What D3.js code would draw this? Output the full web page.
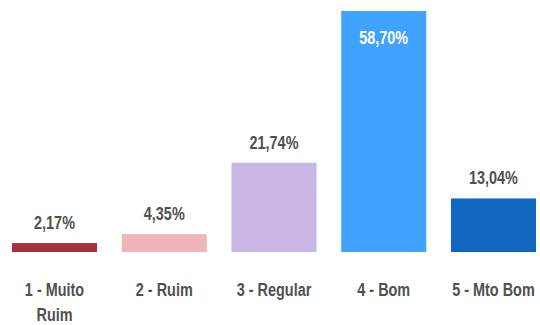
<!DOCTYPE html>
<html>
<head>
<meta charset="utf-8">
<script src="https://cdn.jsdelivr.net/npm/d3@7"></script>
<style>
  html, body { margin: 0; padding: 0; background: #fff; }
  svg { display: block; }
  text { font-family: "Liberation Sans", Arial, sans-serif; font-weight: bold; }
</style>
</head>
<body>
<svg id="chart" width="540" height="325"></svg>
<script>
// Avaliação: percentual de respostas por nota
const categories = ["1 - Muito Ruim", "2 - Ruim", "3 - Regular", "4 - Bom", "5 - Mto Bom"];
const tickLines = [["1 - Muito", "Ruim"], ["2 - Ruim"], ["3 - Regular"], ["4 - Bom"], ["5 - Mto Bom"]];
const values = [2.17, 4.35, 21.74, 58.70, 13.04];
const valueLabels = ["2,17%", "4,35%", "21,74%", "58,70%", "13,04%"];
const colors = ["#A3323C", "#F0B5B8", "#C8B6E5", "#40A2FF", "#1167C0"];

const svg = d3.select("#chart");
const textColor = "#505050";
const narrow = 0.76; // letreiro estreito (condensado horizontalmente)
const fontSize = 19;

const x = d3.scaleBand()
  .domain(categories)
  .range([12, 536])
  .paddingInner(0.225)
  .paddingOuter(0);

const y = d3.scaleLinear()
  .domain([0, d3.max(values)])
  .range([252, 11]);

// Barras
svg.append("g").selectAll("rect")
  .data(values)
  .join("rect")
  .attr("x", (d, i) => x(categories[i]))
  .attr("y", d => y(d))
  .attr("width", x.bandwidth())
  .attr("height", d => y(0) - y(d))
  .attr("fill", (d, i) => colors[i]);

// Rótulos de valor: acima da barra, ou dentro quando a barra encosta no topo
svg.append("g").selectAll("g")
  .data(values)
  .join("g")
  .attr("transform", (d, i) => {
    const cx = x(categories[i]) + x.bandwidth() / 2;
    const ty = y(d) < 40 ? y(d) + 33 : y(d) - 14;
    return `translate(${cx},${ty}) scale(${narrow},1)`;
  })
  .append("text")
  .attr("text-anchor", "middle")
  .attr("font-size", fontSize)
  .attr("fill", d => y(d) < 40 ? "#ffffff" : textColor)
  .text((d, i) => valueLabels[i]);

// Eixo de categorias
const axis = svg.append("g")
  .attr("transform", `translate(0,${y(0)})`)
  .call(d3.axisBottom(x).tickSize(0).tickFormat(() => ""));
axis.select(".domain").remove();

axis.selectAll(".tick").each(function(d) {
  const i = categories.indexOf(d);
  const t = d3.select(this).select("text")
    .attr("y", 0)
    .attr("dy", null)
    .attr("transform", `scale(${narrow},1)`)
    .attr("font-size", fontSize)
    .attr("font-family", null)
    .attr("fill", textColor);
  tickLines[i].forEach((line, k) => {
    t.append("tspan")
      .attr("x", 0)
      .attr("y", 44 + k * 25)
      .text(line);
  });
});
</script>
</body>
</html>
